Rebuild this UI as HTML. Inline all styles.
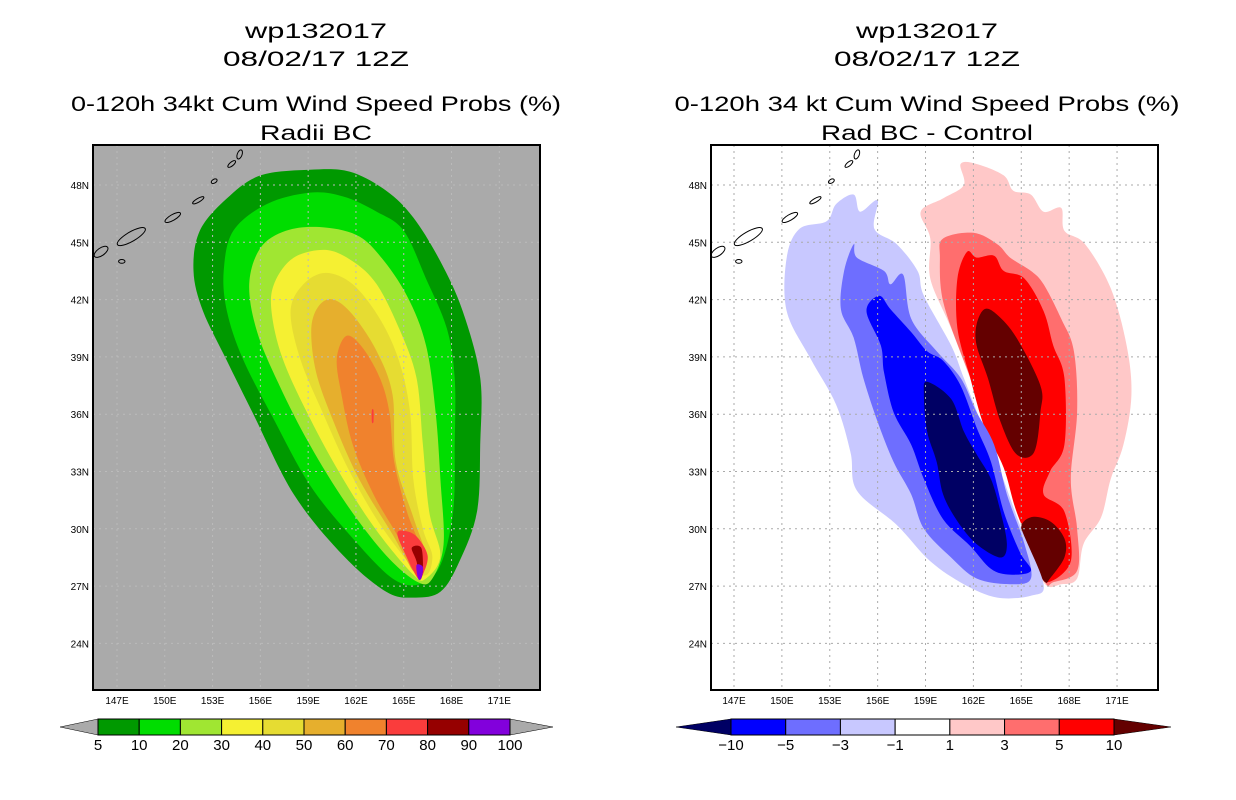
<!DOCTYPE html>
<html><head><meta charset="utf-8"><style>
body{margin:0;background:#fff;width:1236px;height:800px;overflow:hidden}
svg{display:block}
text{font-family:"Liberation Sans",sans-serif}
</style></head><body>
<svg id="s" width="1236" height="800" xmlns="http://www.w3.org/2000/svg"></svg>
<script>
const lonTicks=[147,150,153,156,159,162,165,168,171];
const latTicks=[48,45,42,39,36,33,30,27,24];
const leftLevels=["5","10","20","30","40","50","60","70","80","90","100"];
const leftColors=["#009900","#00dd00","#a0e632","#f5f032","#e6dc32","#e6af2d","#f0822d","#fa3c3c","#960000","#8200dc"];
const rightLevels=["−10","−5","−3","−1","1","3","5","10"];
const rightColors=["#0000ff","#6e6eff","#c8c8ff","#ffffff","#ffc8c8","#ff6e6e","#ff0000"];
// contour polygons in [lon,lat]
const probContours=[
 [0,[[159.1,48.8],[161.6,48.7],[163.9,47.7],[165.6,46.3],[167.3,44.0],[168.7,41.4],[169.8,37.9],[169.8,34.4],[169.6,30.9],[168.5,28.3],[167.3,26.7],[165.6,26.4],[163.9,26.7],[161.2,28.6],[158.1,31.8],[155.5,36.1],[153.9,38.8],[152.4,41.4],[151.8,43.5],[152.2,45.6],[153.9,47.3],[156.0,48.5]]],
 [1,[[159.1,47.6],[161.2,47.4],[163.3,46.6],[165.0,45.6],[166.4,43.1],[167.7,40.5],[168.2,37.9],[168.2,34.4],[168.1,30.9],[167.3,28.1],[166.0,27.1],[164.3,27.4],[161.8,29.5],[159.1,32.3],[156.8,35.8],[154.9,38.9],[153.9,41.4],[153.7,43.5],[154.3,45.6],[156.4,47.0]]],
 [2,[[159.7,45.8],[162.0,45.4],[163.5,44.3],[165.2,42.2],[166.4,39.6],[167.0,36.1],[167.3,32.6],[167.5,29.2],[166.8,27.4],[165.9,27.2],[163.9,28.6],[161.4,31.3],[159.1,34.4],[157.2,37.5],[155.8,40.3],[155.3,42.8],[156.0,44.7],[157.6,45.6]]],
 [3,[[160.1,44.6],[161.8,44.0],[163.3,42.8],[164.7,40.5],[165.8,37.9],[166.2,34.4],[166.6,30.9],[167.3,28.6],[166.4,27.4],[165.6,27.6],[163.3,29.9],[161.2,32.6],[159.1,35.8],[157.4,38.9],[156.7,41.4],[156.9,42.9],[158.1,44.2]]],
 [4,[[160.1,43.4],[161.8,42.8],[163.5,41.0],[164.7,38.8],[165.4,36.1],[165.6,32.6],[166.2,30.0],[166.8,28.5],[166.1,27.6],[163.7,30.0],[161.6,33.0],[159.9,36.1],[158.5,38.9],[157.9,41.4],[158.7,42.8]]],
 [5,[[160.6,42.0],[161.8,41.2],[163.3,39.3],[164.3,37.0],[164.5,33.5],[165.6,30.6],[166.4,28.5],[165.8,27.6],[164.3,29.7],[162.2,32.6],[160.6,35.6],[159.5,38.2],[159.2,40.5],[159.7,41.7]]],
 [6,[[161.4,40.1],[162.4,39.5],[163.5,37.9],[164.1,36.1],[164.4,33.5],[165.2,30.9],[166.1,28.8],[165.6,27.8],[164.7,29.5],[163.1,31.8],[161.8,34.4],[161.1,37.0],[160.8,38.9]]],
 [7,[[165.0,29.9],[165.8,29.6],[166.5,28.6],[166.2,27.6],[165.9,27.4],[165.2,28.5],[164.6,29.7]]],
 [8,[[165.5,29.0],[166.1,29.0],[166.2,27.8],[166.0,27.4],[165.8,28.3]]],
 [9,[[165.8,28.1],[166.2,28.0],[166.1,27.4],[165.9,27.4]]],
 [7,[[163.0,36.2],[163.1,36.2],[163.1,35.6],[163.0,35.6]]]
];
const diffContours=[
 [4,[[161.2,49.1],[162.2,49.1],[163.9,48.5],[164.5,47.7],[165.6,47.5],[166.4,46.6],[167.5,46.8],[167.7,45.6],[169.0,44.9],[170.6,42.6],[171.6,39.6],[171.9,37.0],[171.4,34.4],[170.6,32.6],[170.0,30.6],[168.9,29.2],[168.5,27.4],[167.5,27.1],[166.4,27.2],[165.2,30.0],[163.9,33.5],[162.2,37.0],[160.6,40.5],[159.3,43.1],[159.3,45.2],[158.7,46.6],[160.1,47.3],[161.4,48.0]]],
 [5,[[160.1,45.2],[162.0,45.5],[163.5,44.9],[164.3,44.2],[165.6,43.5],[166.4,42.8],[167.5,41.0],[168.3,39.3],[168.5,36.1],[168.1,32.6],[168.5,30.0],[168.5,27.8],[167.0,27.2],[166.5,27.2],[165.4,29.5],[164.3,32.6],[163.1,35.3],[161.4,38.8],[160.1,41.9],[159.9,44.2]]],
 [6,[[161.6,44.5],[162.2,44.2],[163.3,44.3],[163.9,43.5],[165.2,43.1],[166.4,41.4],[167.0,39.6],[167.7,37.9],[167.7,34.4],[166.8,33.0],[166.4,31.8],[167.7,30.9],[168.1,28.3],[166.6,27.2],[166.0,28.3],[164.7,30.9],[163.9,33.2],[162.7,35.3],[161.8,37.9],[161.0,40.5],[161.0,43.1]]],
 [7,[[162.7,41.5],[163.5,41.2],[164.7,40.0],[166.2,37.5],[166.2,36.1],[165.8,34.0],[164.7,33.9],[163.7,35.6],[162.9,37.9],[162.2,39.6],[162.2,40.7]]],
 [7,[[165.6,30.6],[166.8,30.4],[167.7,29.5],[167.7,28.5],[166.8,27.4],[166.5,27.2],[166.0,27.9],[165.0,29.9]]],
 [2,[[154.5,47.5],[154.9,46.6],[156.0,47.2],[155.8,45.7],[157.2,44.9],[158.5,43.5],[158.9,42.2],[160.6,39.6],[161.4,37.9],[162.7,35.1],[163.7,33.0],[165.0,30.0],[166.4,27.1],[165.6,26.5],[163.5,26.4],[161.4,27.1],[159.3,28.3],[157.2,30.2],[154.7,32.0],[154.3,34.0],[153.4,36.5],[151.8,38.9],[150.3,41.4],[150.3,44.2],[151.1,45.7],[152.8,46.1],[153.4,47.0]]],
 [1,[[154.5,44.9],[154.7,44.2],[156.4,43.5],[156.8,42.8],[157.6,43.3],[158.1,41.0],[159.7,39.3],[161.2,37.9],[162.2,36.1],[163.3,34.4],[164.1,31.8],[165.2,29.2],[165.6,27.4],[164.3,27.1],[162.2,27.4],[160.6,28.5],[158.9,30.0],[158.1,31.8],[157.0,33.5],[156.0,35.6],[155.1,37.9],[154.5,40.0],[153.7,41.5],[153.9,43.5]]],
 [0,[[156.1,42.2],[156.8,41.5],[158.1,40.3],[159.1,39.3],[160.1,38.8],[161.2,37.5],[162.2,35.3],[163.1,33.5],[163.9,30.9],[164.9,28.8],[165.6,27.8],[164.3,27.6],[163.1,27.9],[161.8,29.1],[160.1,30.5],[158.9,32.6],[158.1,34.4],[157.0,36.1],[156.4,38.2],[156.2,39.6],[155.3,41.4]]],
 [-1,[[159.1,37.7],[160.6,36.8],[161.4,35.1],[162.2,33.9],[163.1,32.6],[163.7,30.9],[164.1,29.2],[163.7,28.5],[162.2,29.2],[161.0,30.4],[160.1,31.8],[159.7,33.5],[159.1,35.1],[158.9,37.0]]]
];
// island outlines [lon,lat,rxDeg,ryDeg,rot]
const islands=[[147.9,45.3,1.0,0.25,-30],[150.5,46.3,0.55,0.15,-30],[152.1,47.2,0.4,0.1,-30],[147.3,44.0,0.2,0.1,0],[146.0,44.5,0.5,0.2,-35],[153.1,48.2,0.2,0.1,-30],[154.2,49.1,0.3,0.1,-40],[154.7,49.6,0.15,0.25,20]];

const NS="http://www.w3.org/2000/svg";
const svg=document.getElementById('s');
function mk(tag,attrs,parent){const e=document.createElementNS(NS,tag);for(const k in attrs)e.setAttribute(k,attrs[k]);(parent||svg).appendChild(e);return e;}
function makePanel(x0,x147,lonScale,name){
  const top=145,bot=690,x1=x0+447;
  const X=lon=>x147+(lon-147)*lonScale;
  const Y=lat=>185+(48-lat)*19.1;
  return {x0,x1,top,bot,X,Y,name};
}
function smoothPath(pts,P){
  const p=pts.map(q=>[P.X(q[0]),P.Y(q[1])]);const n=p.length;let d=`M${p[0][0].toFixed(1)},${p[0][1].toFixed(1)}`;
  for(let i=0;i<n;i++){const a=p[(i-1+n)%n],b=p[i],c=p[(i+1)%n],e=p[(i+2)%n];
    const c1=[b[0]+(c[0]-a[0])/6,b[1]+(c[1]-a[1])/6],c2=[c[0]-(e[0]-b[0])/6,c[1]-(e[1]-b[1])/6];
    d+=`C${c1[0].toFixed(1)},${c1[1].toFixed(1)} ${c2[0].toFixed(1)},${c2[1].toFixed(1)} ${c[0].toFixed(1)},${c[1].toFixed(1)}`;}
  return d+'Z';
}
function drawPanel(P,bg,contours,colorFn,gridCol,cx,titles,widths){
  const g=mk('g',{});
  
  
  const clipId='clip-'+P.name;
  const cp=mk('clipPath',{id:clipId},g);mk('rect',{x:P.x0,y:P.top,width:P.x1-P.x0,height:P.bot-P.top},cp);
  const bgr=mk('rect',{x:P.x0,y:P.top,width:P.x1-P.x0,height:P.bot-P.top,fill:bg},g);
  
  
  const cg=mk('g',{'clip-path':`url(#${clipId})`},g);
  contours.forEach(c=>{const p=mk('path',{d:smoothPath(c[1],P),fill:colorFn(c[0])},cg);
    
    });
  lonTicks.forEach(l=>{const x=P.X(l);const ln=mk('line',{x1:x,x2:x,y1:P.top,y2:P.bot,stroke:gridCol,'stroke-width':1,'stroke-dasharray':'2,4'},cg);
    
    
    const t=mk('text',{x:x,y:704,'font-size':10,'text-anchor':'middle',fill:'#000'},g);t.textContent=l+'E';
    
    });
  latTicks.forEach(l=>{const y=P.Y(l);const ln=mk('line',{x1:P.x0,x2:P.x1,y1:y,y2:y,stroke:gridCol,'stroke-width':1,'stroke-dasharray':'2,4'},cg);
    
    
    const t=mk('text',{x:P.x0-4,y:y+4,'font-size':10,'text-anchor':'end',fill:'#000'},g);t.textContent=l+'N';
    
    });
  islands.forEach(i=>{const cxp=P.X(i[0]),cyp=P.Y(i[1]);
    const e=mk('ellipse',{cx:cxp,cy:cyp,rx:i[2]*16,ry:i[3]*19,fill:'none',stroke:'#000','stroke-width':1,transform:`rotate(${i[4]} ${cxp} ${cyp})`},cg);
    
    });
  const fr=mk('rect',{x:P.x0,y:P.top,width:P.x1-P.x0,height:P.bot-P.top,fill:'none',stroke:'#000','stroke-width':2},g);
  
  
  const ys=[38,66,111,140];
  titles.forEach((tt,i)=>{const t=mk('text',{x:cx-widths[i]/2,y:ys[i],'font-size':21,fill:'#000',textLength:widths[i],lengthAdjust:'spacingAndGlyphs'},g);t.textContent=tt;
    
    });
}
const L=makePanel(93,117,15.93,'left-map');
const R=makePanel(711,734,15.96,'right-map');
drawPanel(L,'#aaaaaa',probContours,k=>leftColors[k],'#bbbbbb',316,['wp132017','08/02/17 12Z','0-120h 34kt Cum Wind Speed Probs (%)','Radii BC'],[142,186,490,112]);
drawPanel(R,'#ffffff',diffContours,k=>k<0?'#000064':(k===7?'#640000':rightColors[k]),'#aaaaaa',927,['wp132017','08/02/17 12Z','0-120h 34 kt Cum Wind Speed Probs (%)','Rad BC - Control'],[142,186,505,212]);
function colorbar(x0,x1,colors,labels,leftTri,rightTri,lx,rx,name){
  const g=mk('g',{});
  
  
  const y0=719,y1=735,n=colors.length,w=(x1-x0)/n;
  let p=mk('polygon',{points:`${x0},${y0} ${x0},${y1} ${lx},${(y0+y1)/2}`,fill:leftTri,stroke:'#000','stroke-width':0.5},g);
  
  
  p=mk('polygon',{points:`${x1},${y0} ${x1},${y1} ${rx},${(y0+y1)/2}`,fill:rightTri,stroke:'#000','stroke-width':0.5},g);
  
  
  colors.forEach((c,i)=>{const r=mk('rect',{x:x0+i*w,y:y0,width:w,height:y1-y0,fill:c,stroke:'#000','stroke-width':1},g);
    
    });
  labels.forEach((l,i)=>{const t=mk('text',{x:x0+i*w,y:750,'font-size':15,'text-anchor':'middle',fill:'#000'},g);t.textContent=l;
    
    });
}
colorbar(98,510,leftColors,leftLevels,'#aaaaaa','#aaaaaa',60,553,'left-colorbar');
colorbar(731,1114,rightColors,rightLevels,'#000064','#640000',676,1171,'right-colorbar');
</script>
</body></html>
